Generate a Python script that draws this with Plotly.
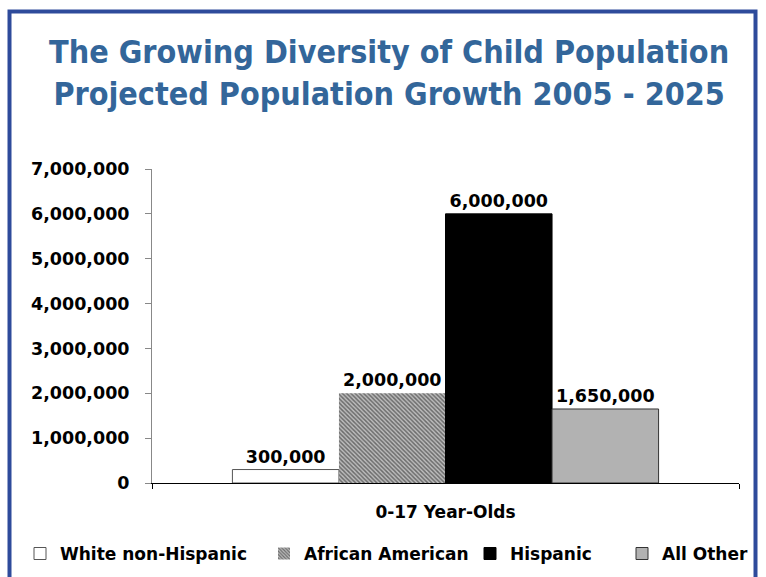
import plotly.graph_objects as go

category = ["0-17 Year-Olds"]
series_names = ["White non-Hispanic", "African American", "Hispanic", "All Other"]
series_values = [300000, 2000000, 6000000, 1650000]
series_labels = ["300,000", "2,000,000", "6,000,000", "1,650,000"]
y_ticks = [0, 1000000, 2000000, 3000000, 4000000, 5000000, 6000000, 7000000]
y_ticktext = ["0", "1,000,000", "2,000,000", "3,000,000", "4,000,000", "5,000,000", "6,000,000", "7,000,000"]

FONT = "Verdana, DejaVu Sans, sans-serif"

styles = [
    dict(color="white", line=dict(color="#555555", width=1)),
    dict(color="#6a6a6a", line=dict(color="#6a6a6a", width=0),
         pattern=dict(shape="\\", size=3, solidity=0.5, fgcolor="#1a1a1a", bgcolor="#bdbdbd")),
    dict(color="black", line=dict(color="black", width=1)),
    dict(color="#b2b2b2", line=dict(color="#333333", width=1)),
]
legend_ids = ["legend", "legend2", "legend3", "legend4"]
legend_left_px = [20, 264, 470, 622]

fig = go.Figure()
for name, v, lab, st, lg in zip(series_names, series_values, series_labels, styles, legend_ids):
    fig.add_trace(go.Bar(
        x=category, y=[v], name="<b>" + name + "</b>", marker=st, legend=lg,
        text=["<b>" + lab + "</b>"], textposition="outside", cliponaxis=False,
        textfont=dict(family=FONT, size=17.5, color="black"),
    ))

legend_layout = {}
for lg, px in zip(legend_ids, legend_left_px):
    legend_layout[lg] = dict(orientation="h", x=(px - 152) / 587, xanchor="left",
                             y=-0.226, yanchor="middle", bgcolor="rgba(0,0,0,0)",
                             font=dict(family=FONT, size=17, color="black"),
                             itemclick=False)

fig.update_layout(
    width=766, height=577,
    margin=dict(l=152, r=27, t=169, b=94, autoexpand=False),
    paper_bgcolor="white", plot_bgcolor="white",
    barmode="group", bargap=0.274, bargroupgap=0,
    font=dict(family=FONT, color="black"),
    showlegend=True,
    annotations=[dict(
        text="<b>The Growing Diversity of Child Population<br>Projected Population Growth 2005 - 2025</b>",
        xref="paper", yref="paper", x=(389 - 152) / 587, y=(483 - 73) / 314,
        xanchor="center", yanchor="middle", showarrow=False,
        font=dict(family="DejaVu Sans Condensed, Liberation Sans Narrow, Roboto, sans-serif",
                  size=32, color="#33669a"),
        align="center")],
    shapes=[dict(type="rect", xref="paper", yref="paper",
                 x0=(9.5 - 152) / 587, x1=(755.5 - 152) / 587,
                 y0=(483 - 600) / 314, y1=(483 - 11.5) / 314,
                 line=dict(color="#2e4b9b", width=4), fillcolor="rgba(0,0,0,0)", layer="below")],
    **legend_layout,
)

fig.update_xaxes(showline=True, linecolor="black", linewidth=1, ticks="outside",
                 tickson="boundaries", ticklen=5, tickcolor="black",
                 ticklabelstandoff=14,
                 tickfont=dict(family=FONT, size=17, color="black"),
                 tickprefix="<b>", ticksuffix="</b>", showgrid=False)
fig.update_yaxes(range=[0, 7000000], tickvals=y_ticks,
                 ticktext=["<b>" + t + "</b>" for t in y_ticktext],
                 showline=True, linecolor="#888888", linewidth=1, ticks="outside",
                 ticklen=6, tickcolor="#888888", showgrid=False, zeroline=False,
                 ticklabelstandoff=12,
                 tickfont=dict(family=FONT, size=17.5, color="black"))

fig.write_html("out.html")
